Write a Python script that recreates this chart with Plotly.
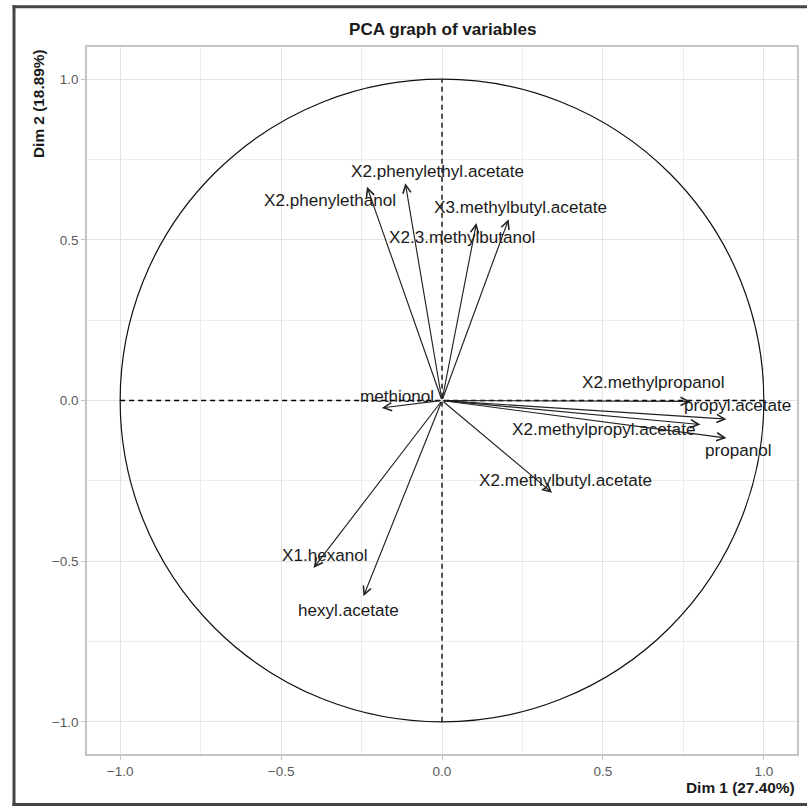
import plotly.graph_objects as go

# ---- data ----
variables = [
    "X2.phenylethanol", "X2.phenylethyl.acetate", "X2.3.methylbutanol",
    "X3.methylbutyl.acetate", "methionol", "X2.methylpropanol",
    "propyl.acetate", "X2.methylpropyl.acetate", "propanol",
    "X2.methylbutyl.acetate", "X1.hexanol", "hexyl.acetate",
]
dim1 = [-0.233, -0.114, 0.107, 0.207, -0.187, 0.772,
        0.884, 0.803, 0.884, 0.342, -0.399, -0.244]
dim2 = [0.665, 0.676, 0.552, 0.564, -0.023, -0.003,
        -0.058, -0.075, -0.117, -0.287, -0.521, -0.609]
# label positions (text centres, data units)
label_x = [-0.347, -0.015, 0.062, 0.243, -0.140, 0.657,
           0.917, 0.501, 0.921, 0.383, -0.363, -0.290]
label_y = [0.621, 0.714, 0.507, 0.600, 0.013, 0.056,
           -0.015, -0.091, -0.155, -0.248, -0.482, -0.652]

title = "PCA graph of variables"
xlab = "Dim 1 (27.40%)"
ylab = "Dim 2 (18.89%)"
tickvals = [-1.0, -0.5, 0.0, 0.5, 1.0]
ticktext = ["\u22121.0", "\u22120.5", "0.0", "0.5", "1.0"]

FONT = "Liberation Sans, Arial, sans-serif"

fig = go.Figure()
# invisible trace to set up axes
fig.add_trace(go.Scatter(x=[0], y=[0], mode="markers",
                         marker=dict(opacity=0), showlegend=False, hoverinfo="skip"))

shapes = []
# unit circle
shapes.append(dict(type="circle", xref="x", yref="y", x0=-1, y0=-1, x1=1, y1=1,
                   line=dict(color="#111111", width=1.2)))
# dashed axes lines
shapes.append(dict(type="line", xref="x", yref="y", x0=-1, y0=0, x1=1, y1=0,
                   line=dict(color="black", width=1.3, dash="5px,4px")))
shapes.append(dict(type="line", xref="x", yref="y", x0=0, y0=-1, x1=0, y1=1,
                   line=dict(color="black", width=1.3, dash="5px,4px")))

# outer frame of the image (left, top, bottom strips; right edge is cut off)
W, H = 710.0, 707.3   # plot-area size in px, to convert frame px -> paper


def px_x(p):
    return (p - 87) / W


def px_y(p):
    return (754 - p) / H


frame_fill = "#454545"
for (a, b, c, d) in [(12.5, 15.5, 5, 806),     # left strip
                     (12.5, 807, 5, 8),        # top strip
                     (12.5, 807, 803, 806)]:   # bottom strip
    shapes.append(dict(type="rect", xref="paper", yref="paper",
                       x0=px_x(a), x1=px_x(b), y0=px_y(d), y1=px_y(c),
                       fillcolor=frame_fill, line=dict(width=0), layer="above"))

annotations = []
for name, x, y, lx, ly in zip(variables, dim1, dim2, label_x, label_y):
    annotations.append(dict(x=x, y=y, ax=0, ay=0, xref="x", yref="y",
                            axref="x", ayref="y", text="", showarrow=True,
                            arrowhead=5, arrowsize=1.4, arrowwidth=1.15,
                            arrowcolor="#222222", standoff=0, startstandoff=0))
    annotations.append(dict(x=lx, y=ly, xref="x", yref="y", text=name,
                            showarrow=False, xanchor="center", yanchor="middle",
                            font=dict(family=FONT, size=17.1, color="#1a1a1a")))

annotations.append(dict(x=0.5, y=px_y(29), xref="paper", yref="paper",
                        text="<b>" + title + "</b>", showarrow=False,
                        xanchor="center", yanchor="middle",
                        font=dict(family=FONT, size=17.1, color="#1a1a1a")))
annotations.append(dict(x=1.0, y=px_y(788), xref="paper", yref="paper",
                        text="<b>" + xlab + "</b>", showarrow=False,
                        xanchor="right", yanchor="middle",
                        font=dict(family=FONT, size=15.4, color="#1a1a1a")))
annotations.append(dict(x=px_x(38.5), y=1.0, xref="paper", yref="paper",
                        text="<b>" + ylab + "</b>", showarrow=False, textangle=-90,
                        xanchor="center", yanchor="top",
                        font=dict(family=FONT, size=15.4, color="#1a1a1a")))

axis_common = dict(
    range=[-1.103, 1.103], tickvals=tickvals, ticktext=ticktext,
    showgrid=True, gridcolor="#e3e3e3", gridwidth=1.3,
    minor=dict(dtick=0.25, tick0=0, showgrid=True, gridcolor="#ececec", gridwidth=1),
    zeroline=False, showline=True, linecolor="#c4c4c4", linewidth=1.5, mirror=True,
    ticks="outside", ticklen=4, tickcolor="#c4c4c4", tickwidth=1,
    tickfont=dict(family=FONT, size=13.5, color="#5a5a5a"),
    fixedrange=True,
)

fig.update_layout(
    width=807, height=808,
    margin=dict(l=87, r=10, t=47, b=54, autoexpand=False),
    paper_bgcolor="white", plot_bgcolor="white",
    xaxis=dict(**axis_common),
    yaxis=dict(**{**axis_common, "range": [-1.1, 1.1]}),
    shapes=shapes, annotations=annotations, showlegend=False,
)

fig.write_html(
    "out.html",
    config={"displayModeBar": False},
    post_script="document.documentElement.style.overflow='hidden';"
                "document.body.style.overflow='hidden';document.body.style.margin='0';",
)
